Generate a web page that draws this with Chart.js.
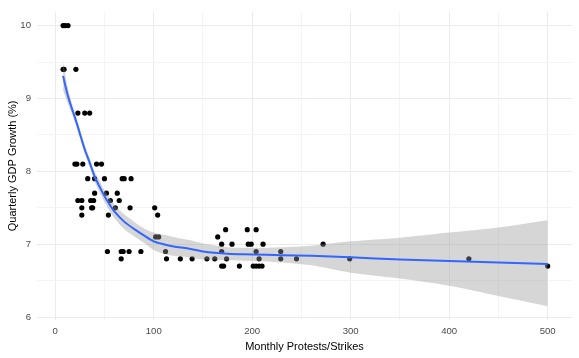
<!DOCTYPE html>
<html>
<head>
<meta charset="utf-8">
<script src="https://cdn.jsdelivr.net/npm/chart.js@4/dist/chart.umd.min.js"></script>
<style>
  html, body { margin: 0; padding: 0; background: #ffffff; }
  #wrap { width: 579px; height: 358px; }
</style>
</head>
<body>
<div id="wrap"><canvas id="grafico" width="579" height="358"></canvas></div>
<script>
// observed points
const protestos = [8, 10, 13, 8, 9, 21, 23, 30, 35, 20, 22, 28, 42, 47,
  33, 40, 50, 68, 70, 77, 40, 52, 63, 23, 27, 36, 39, 56, 65,
  27, 37, 38, 61, 76, 101, 27, 54, 104, 102, 105,
  53, 67, 69, 75, 87, 112, 67, 113, 127, 139, 154, 162,
  165, 173, 169, 169, 174, 169, 171, 179.5, 187, 195, 196, 199, 204, 204, 207,
  201, 204, 207, 210, 211, 229, 229, 245, 272, 299, 420, 500];
const crescimento = [10, 10, 10, 9.4, 9.4, 9.4, 8.8, 8.8, 8.8, 8.1, 8.1, 8.1, 8.1, 8.1,
  7.9, 7.9, 7.9, 7.9, 7.9, 7.9, 7.7, 7.7, 7.7, 7.6, 7.6, 7.6, 7.6, 7.6, 7.6,
  7.5, 7.5, 7.5, 7.5, 7.5, 7.5, 7.4, 7.4, 7.4, 7.1, 7.1,
  6.9, 6.9, 6.9, 6.9, 6.9, 6.9, 6.8, 6.8, 6.8, 6.8, 6.8, 6.8,
  7.1, 7.2, 7.0, 6.9, 6.8, 6.7, 6.7, 7.0, 6.7, 7.2, 7.0, 7.0, 7.2, 6.9, 6.8,
  6.7, 6.7, 6.7, 6.7, 7.0, 6.9, 6.8, 6.8, 7.0, 6.8, 6.8, 6.7];

// smooth curve + confidence band
const curvaX = [8, 12, 16, 20, 25, 30, 35, 40, 45, 50, 55, 60, 70, 80, 90, 100, 110, 120, 135, 150, 175, 200, 230, 260, 300, 350, 400, 450, 500];
const curvaY = [9.31, 9.08, 8.90, 8.74, 8.52, 8.30, 8.12, 7.93, 7.79, 7.66, 7.55, 7.45, 7.31, 7.21, 7.12, 7.04, 7.00, 6.97, 6.94, 6.90, 6.87, 6.86, 6.85, 6.84, 6.82, 6.79, 6.77, 6.75, 6.73];
const bandaSup = [9.51, 9.20, 8.98, 8.80, 8.58, 8.36, 8.18, 8.00, 7.87, 7.74, 7.64, 7.54, 7.41, 7.31, 7.22, 7.16, 7.13, 7.10, 7.06, 7.01, 6.96, 6.95, 6.96, 6.98, 7.04, 7.09, 7.16, 7.23, 7.33];
const bandaInf = [9.11, 8.96, 8.82, 8.68, 8.46, 8.24, 8.06, 7.86, 7.71, 7.58, 7.46, 7.36, 7.21, 7.11, 7.02, 6.92, 6.87, 6.84, 6.82, 6.79, 6.78, 6.77, 6.75, 6.71, 6.61, 6.53, 6.43, 6.29, 6.15];

const ticksX = [0, 50, 100, 150, 200, 250, 300, 350, 400, 450, 500];
const ticksY = [6, 6.5, 7, 7.5, 8, 8.5, 9, 9.5, 10];

const pares = (xs, ys) => xs.map((x, i) => ({ x: x, y: ys[i] }));
const corGrade = (ctx) => (ctx.tick && Number.isInteger(ctx.tick.value / (ctx.scale.axis === 'x' ? 100 : 1))) ? '#ebebeb' : '#f4f4f4';

new Chart(document.getElementById("grafico"), {
  type: "scatter",
  data: {
    datasets: [
      {
        data: pares(curvaX, curvaY),
        showLine: true,
        borderColor: "#3366FF",
        borderWidth: 2,
        pointRadius: 0,
        tension: 0.3,
        fill: false,
        order: 0
      },
      {
        data: pares(curvaX, bandaInf),
        showLine: true,
        borderWidth: 0,
        borderColor: "rgba(0,0,0,0)",
        pointRadius: 0,
        tension: 0.3,
        fill: false,
        order: 1
      },
      {
        data: pares(curvaX, bandaSup),
        showLine: true,
        borderWidth: 0,
        borderColor: "rgba(0,0,0,0)",
        backgroundColor: "rgba(153,153,153,0.4)",
        pointRadius: 0,
        tension: 0.3,
        fill: "-1",
        order: 1
      },
      {
        data: pares(protestos, crescimento),
        backgroundColor: "#000000",
        borderColor: "#000000",
        borderWidth: 0,
        pointRadius: 2.6,
        order: 2
      }
    ]
  },
  options: {
    responsive: false,
    animation: false,
    layout: { padding: { top: 7, right: 7, left: 0, bottom: 0 } },
    plugins: {
      legend: { display: false },
      tooltip: { enabled: false }
    },
    scales: {
      x: {
        type: "linear",
        min: -18.5,
        max: 524.7,
        afterBuildTicks: (s) => { s.ticks = ticksX.map(v => ({ value: v })); },
        afterFit: (s) => { s.height = 38; },
        border: { display: false },
        grid: { color: corGrade, lineWidth: 1, drawTicks: false },
        ticks: {
          padding: 6,
          color: "#4d4d4d",
          font: { family: "Liberation Sans", size: 9.6 },
          maxRotation: 0,
          callback: (v) => (v % 100 === 0 ? String(v) : "")
        },
        title: {
          display: true,
          text: "Monthly Protests/Strikes",
          color: "#000000",
          font: { family: "Liberation Sans", size: 11 },
          padding: { top: 0, bottom: 4 }
        }
      },
      y: {
        min: 5.96,
        max: 10.19,
        afterBuildTicks: (s) => { s.ticks = ticksY.map(v => ({ value: v })); },
        afterFit: (s) => { s.width = 37; },
        border: { display: false },
        grid: { color: corGrade, lineWidth: 1, drawTicks: false },
        ticks: {
          padding: 6,
          color: "#4d4d4d",
          font: { family: "Liberation Sans", size: 9.6 },
          callback: (v) => (Number.isInteger(v) ? String(v) : "")
        },
        title: {
          display: true,
          text: "Quarterly GDP Growth (%)",
          color: "#000000",
          font: { family: "Liberation Sans", size: 11 },
          padding: { top: 6, bottom: 0 }
        }
      }
    }
  }
});
</script>
</body>
</html>
